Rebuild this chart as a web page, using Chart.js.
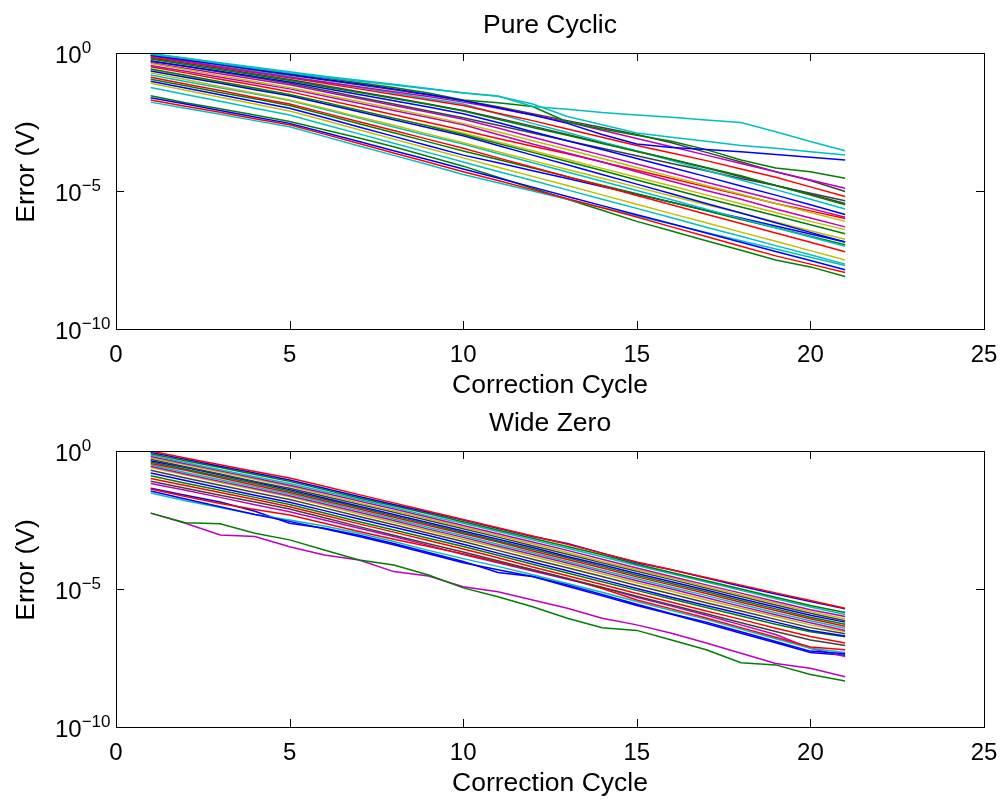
<!DOCTYPE html>
<html>
<head>
<meta charset="utf-8">
<title>Pure Cyclic / Wide Zero</title>
<script src="https://cdn.jsdelivr.net/npm/chart.js@4.4.0/dist/chart.umd.min.js"></script>
<style>
html, body { margin: 0; padding: 0; background: #fff; }
#wrap { position: relative; width: 1006px; height: 802px; }
canvas { position: absolute; left: 0; }
</style>
</head>
<body>
<div id="wrap">
  <canvas id="pureCyclic" width="1006" height="401" style="top:0"></canvas>
  <canvas id="wideZero" width="1006" height="401" style="top:401px"></canvas>
</div>
<script>
// correction cycles on the x axis
var cycles = [1, 2, 3, 4, 5, 6, 7, 8, 9, 10, 11, 12, 13, 14, 15, 16, 17, 18, 19, 20, 21];

var xTicks = [0, 5, 10, 15, 20, 25];
var yTicks = [1, 1e-5, 1e-10];
var yTickExps = ['0', '\u22125', '\u221210'];

var xLabel = 'Correction Cycle';
var yLabel = 'Error (V)';

var pureCyclicLog = [
  [-0.05,-0.2,-0.38,-0.55,-0.72,-0.88,-1.02,-1.16,-1.3,-1.44,-1.56,-1.94,-2.04,-2.16,-2.25,-2.33,-2.43,-2.52,-2.85,-3.21,-3.54],
  [-0.02,-0.18,-0.35,-0.52,-0.68,-0.84,-0.99,-1.13,-1.29,-1.45,-1.57,-1.85,-2.3,-2.6,-2.9,-3.05,-3.2,-3.35,-3.45,-3.58,-3.7],
  [-0.08,-0.25,-0.42,-0.6,-0.78,-0.95,-1.12,-1.3,-1.5,-1.72,-1.98,-2.25,-2.55,-2.95,-3.3,-3.42,-3.5,-3.58,-3.68,-3.78,-3.88],
  [-0.03,-0.2,-0.38,-0.56,-0.74,-0.9,-1.08,-1.25,-1.45,-1.7,-1.8,-1.94,-2.5,-2.75,-2.98,-3.2,-3.5,-3.88,-4.17,-4.3,-4.54],
  [-0.1,-0.3,-0.5,-0.7,-0.88,-1.05,-1.22,-1.4,-1.58,-1.78,-2.0,-2.25,-2.5,-2.8,-3.1,-3.4,-3.7,-4.0,-4.3,-4.6,-4.9],
  [-0.06,-0.24,-0.43,-0.62,-0.8,-0.98,-1.15,-1.33,-1.52,-1.72,-1.95,-2.2,-2.45,-2.7,-2.95,-3.25,-3.6,-3.95,-4.3,-4.62,-5.02],
  [-0.15,-0.33,-0.52,-0.71,-0.9,-1.1,-1.3,-1.5,-1.7,-1.9,-2.18,-2.45,-2.75,-3.05,-3.35,-3.62,-3.9,-4.2,-4.5,-4.85,-5.2],
  [-0.22,-0.42,-0.61,-0.8,-1.0,-1.22,-1.43,-1.65,-1.87,-2.1,-2.4,-2.7,-2.98,-3.28,-3.57,-3.85,-4.15,-4.45,-4.8,-5.15,-5.5],
  [-0.3,-0.48,-0.66,-0.85,-1.05,-1.28,-1.5,-1.73,-1.96,-2.2,-2.52,-2.85,-3.18,-3.5,-3.82,-4.15,-4.48,-4.82,-5.15,-5.5,-5.85],
  [-0.38,-0.6,-0.82,-1.03,-1.25,-1.5,-1.76,-2.02,-2.28,-2.55,-2.85,-3.18,-3.5,-3.82,-4.15,-4.48,-4.8,-5.12,-5.45,-5.78,-6.1],
  [-0.12,-0.3,-0.48,-0.66,-0.85,-1.05,-1.25,-1.45,-1.65,-1.85,-2.2,-2.55,-2.88,-3.22,-3.55,-3.9,-4.25,-4.6,-4.95,-5.3,-5.65],
  [-0.45,-0.66,-0.88,-1.09,-1.3,-1.56,-1.82,-2.08,-2.34,-2.6,-2.95,-3.3,-3.62,-3.95,-4.3,-4.65,-4.98,-5.3,-5.65,-5.98,-6.3],
  [-0.5,-0.72,-0.95,-1.17,-1.4,-1.68,-1.96,-2.24,-2.52,-2.8,-3.1,-3.38,-3.65,-3.95,-4.25,-4.55,-4.85,-5.15,-5.45,-5.72,-6.0],
  [-0.58,-0.81,-1.04,-1.27,-1.5,-1.78,-2.07,-2.36,-2.65,-2.95,-3.28,-3.6,-3.93,-4.26,-4.6,-4.93,-5.26,-5.58,-5.9,-6.22,-6.55],
  [-0.65,-0.88,-1.1,-1.33,-1.55,-1.84,-2.13,-2.42,-2.71,-3.0,-3.35,-3.7,-4.05,-4.4,-4.75,-5.1,-5.45,-5.8,-6.15,-6.5,-6.85],
  [-0.28,-0.48,-0.69,-0.89,-1.1,-1.35,-1.6,-1.85,-2.1,-2.35,-2.62,-2.9,-3.18,-3.45,-3.72,-4.0,-4.27,-4.55,-4.8,-5.08,-5.35],
  [-0.72,-0.96,-1.21,-1.45,-1.7,-2.0,-2.32,-2.62,-2.94,-3.25,-3.58,-3.9,-4.22,-4.54,-4.86,-5.18,-5.5,-5.8,-6.12,-6.44,-6.75],
  [-0.8,-1.03,-1.26,-1.49,-1.72,-2.04,-2.36,-2.68,-3.0,-3.3,-3.64,-3.98,-4.31,-4.65,-4.98,-5.32,-5.66,-6.0,-6.33,-6.67,-7.0],
  [-0.35,-0.55,-0.75,-0.95,-1.15,-1.4,-1.65,-1.9,-2.15,-2.4,-2.72,-3.05,-3.38,-3.7,-4.02,-4.35,-4.68,-5.0,-5.32,-5.63,-5.95],
  [-0.88,-1.12,-1.36,-1.61,-1.85,-2.17,-2.49,-2.81,-3.13,-3.45,-3.8,-4.14,-4.48,-4.82,-5.16,-5.5,-5.84,-6.18,-6.52,-6.86,-7.2],
  [-0.95,-1.19,-1.43,-1.66,-1.9,-2.23,-2.56,-2.89,-3.22,-3.55,-3.86,-4.17,-4.48,-4.79,-5.1,-5.41,-5.72,-6.03,-6.33,-6.64,-6.95],
  [-1.02,-1.27,-1.51,-1.76,-2.0,-2.34,-2.68,-3.02,-3.36,-3.7,-3.98,-4.27,-4.55,-4.84,-5.12,-5.41,-5.7,-5.98,-6.27,-6.56,-6.85],
  [-1.1,-1.35,-1.6,-1.85,-2.1,-2.44,-2.78,-3.12,-3.46,-3.8,-4.14,-4.47,-4.8,-5.14,-5.48,-5.82,-6.15,-6.49,-6.82,-7.16,-7.5],
  [-1.25,-1.5,-1.75,-2.0,-2.25,-2.59,-2.93,-3.27,-3.61,-3.95,-4.29,-4.62,-4.96,-5.3,-5.63,-5.97,-6.31,-6.64,-6.98,-7.31,-7.65],
  [-1.62,-1.85,-2.08,-2.32,-2.55,-2.88,-3.21,-3.54,-3.87,-4.2,-4.53,-4.86,-5.2,-5.53,-5.86,-6.19,-6.52,-6.86,-7.19,-7.52,-7.85],
  [-1.7,-1.93,-2.15,-2.38,-2.6,-2.94,-3.28,-3.62,-3.96,-4.3,-4.62,-4.95,-5.28,-5.61,-5.94,-6.3,-6.65,-7.0,-7.35,-7.65,-7.95],
  [-1.78,-2.0,-2.22,-2.45,-2.67,-3.02,-3.37,-3.71,-4.05,-4.4,-4.7,-5.0,-5.3,-5.6,-5.9,-6.2,-6.5,-6.8,-7.1,-7.4,-7.7],
  [-1.55,-1.8,-2.02,-2.25,-2.48,-2.78,-3.08,-3.4,-3.75,-4.1,-4.5,-4.9,-5.3,-5.7,-6.1,-6.45,-6.8,-7.15,-7.5,-7.75,-8.1],
  [-0.6,-0.83,-1.07,-1.3,-1.55,-1.82,-2.09,-2.36,-2.63,-2.9,-3.22,-3.54,-3.86,-4.18,-4.5,-4.82,-5.14,-5.46,-5.78,-6.1,-6.4],
  [-0.18,-0.37,-0.56,-0.76,-0.96,-1.18,-1.4,-1.62,-1.85,-2.08,-2.36,-2.65,-2.95,-3.25,-3.55,-3.86,-4.17,-4.48,-4.8,-5.12,-5.45]
];
var pureCyclicColors = ['c','c','b','g','m','k','r','g','b','y','c','m','r','g','b','k','y','c','m','r','g','b','y','c','b','r','c','g','y','k'];

var wideZeroLog = [
  [-2.25,-2.6,-2.64,-2.98,-3.22,-3.59,-3.95,-4.13,-4.49,-4.96,-5.28,-5.64,-6.06,-6.4,-6.5,-6.85,-7.2,-7.67,-7.75,-8.1,-8.33],
  [-2.25,-2.62,-3.04,-3.1,-3.47,-3.77,-3.95,-4.37,-4.53,-4.92,-5.1,-5.4,-5.7,-6.06,-6.3,-6.6,-6.96,-7.33,-7.7,-7.87,-8.18],
  [0,-0.25,-0.5,-0.74,-0.98,-1.28,-1.58,-1.88,-2.18,-2.48,-2.78,-3.08,-3.38,-3.7,-4.02,-4.3,-4.58,-4.86,-5.14,-5.42,-5.7],
  [-0.05,-0.3,-0.55,-0.8,-1.05,-1.35,-1.65,-1.94,-2.22,-2.5,-2.8,-3.1,-3.35,-3.7,-4.05,-4.3,-4.6,-4.9,-5.18,-5.45,-5.72],
  [-0.1,-0.35,-0.6,-0.85,-1.1,-1.4,-1.7,-1.98,-2.27,-2.56,-2.86,-3.16,-3.46,-3.76,-4.1,-4.4,-4.7,-5.0,-5.3,-5.6,-5.85],
  [-0.15,-0.42,-0.68,-0.93,-1.18,-1.47,-1.76,-2.05,-2.35,-2.62,-2.92,-3.22,-3.52,-3.83,-4.15,-4.45,-4.75,-5.05,-5.35,-5.65,-5.92],
  [-0.2,-0.46,-0.72,-0.98,-1.24,-1.52,-1.81,-2.1,-2.4,-2.7,-3.0,-3.3,-3.6,-3.92,-4.24,-4.55,-4.85,-5.15,-5.45,-5.75,-6.0],
  [-0.25,-0.5,-0.76,-1.02,-1.28,-1.58,-1.88,-2.17,-2.46,-2.76,-3.06,-3.36,-3.68,-4.0,-4.3,-4.6,-4.92,-5.22,-5.52,-5.82,-6.08],
  [-0.3,-0.57,-0.83,-1.1,-1.35,-1.64,-1.93,-2.22,-2.52,-2.82,-3.12,-3.43,-3.74,-4.05,-4.36,-4.66,-4.96,-5.27,-5.58,-5.88,-6.15],
  [-0.35,-0.6,-0.86,-1.12,-1.4,-1.7,-2.0,-2.3,-2.6,-2.9,-3.2,-3.5,-3.82,-4.12,-4.44,-4.74,-5.04,-5.35,-5.65,-5.95,-6.2],
  [-0.4,-0.66,-0.92,-1.18,-1.45,-1.75,-2.05,-2.35,-2.65,-2.95,-3.26,-3.56,-3.87,-4.18,-4.5,-4.8,-5.1,-5.42,-5.72,-6.02,-6.28],
  [-0.45,-0.7,-0.97,-1.24,-1.5,-1.8,-2.1,-2.4,-2.7,-3.0,-3.3,-3.62,-3.93,-4.24,-4.56,-4.86,-5.16,-5.48,-5.78,-6.08,-6.35],
  [-0.5,-0.78,-1.04,-1.3,-1.56,-1.86,-2.16,-2.46,-2.77,-3.07,-3.38,-3.69,-4.0,-4.32,-4.63,-4.94,-5.24,-5.55,-5.86,-6.15,-6.42],
  [-0.55,-0.83,-1.1,-1.36,-1.62,-1.92,-2.22,-2.52,-2.83,-3.13,-3.44,-3.75,-4.06,-4.38,-4.7,-5.0,-5.32,-5.63,-5.93,-6.22,-6.5],
  [-0.6,-0.87,-1.14,-1.4,-1.66,-1.97,-2.28,-2.58,-2.89,-3.2,-3.5,-3.82,-4.13,-4.45,-4.77,-5.08,-5.4,-5.7,-6.0,-6.3,-6.55],
  [-0.7,-0.98,-1.24,-1.5,-1.76,-2.06,-2.37,-2.67,-2.98,-3.28,-3.6,-3.92,-4.23,-4.55,-4.87,-5.18,-5.5,-5.8,-6.1,-6.4,-6.62],
  [-0.8,-1.07,-1.34,-1.6,-1.86,-2.16,-2.46,-2.76,-3.06,-3.38,-3.7,-4.02,-4.34,-4.66,-4.98,-5.3,-5.6,-5.9,-6.2,-6.5,-6.7],
  [-0.9,-1.17,-1.42,-1.68,-1.94,-2.25,-2.56,-2.86,-3.16,-3.46,-3.78,-4.1,-4.42,-4.74,-5.05,-5.36,-5.67,-5.98,-6.28,-6.55,-6.73],
  [-1.0,-1.25,-1.5,-1.76,-2.02,-2.33,-2.64,-2.94,-3.24,-3.55,-3.87,-4.2,-4.52,-4.84,-5.16,-5.48,-5.8,-6.1,-6.42,-6.72,-6.96],
  [-1.1,-1.35,-1.6,-1.85,-2.1,-2.42,-2.74,-3.05,-3.36,-3.66,-3.98,-4.3,-4.62,-4.94,-5.26,-5.58,-5.9,-6.22,-6.54,-6.85,-7.05],
  [-1.38,-1.65,-1.9,-2.12,-2.32,-2.62,-2.92,-3.2,-3.46,-3.72,-4.02,-4.3,-4.62,-4.98,-5.4,-5.72,-6.05,-6.4,-6.75,-7.1,-7.2],
  [-1.45,-1.74,-2.02,-2.3,-2.55,-2.82,-3.1,-3.4,-3.72,-4.05,-4.3,-4.55,-4.85,-5.2,-5.55,-5.9,-6.2,-6.55,-6.9,-7.25,-7.35],
  [-1.52,-1.8,-2.05,-2.3,-2.5,-2.72,-2.98,-3.28,-3.6,-3.9,-4.18,-4.48,-4.8,-5.12,-5.45,-5.78,-6.1,-6.45,-6.8,-7.15,-7.3],
  [-1.18,-1.42,-1.68,-1.95,-2.2,-2.5,-2.8,-3.1,-3.42,-3.75,-4.05,-4.35,-4.65,-4.95,-5.3,-5.62,-5.95,-6.3,-6.65,-7.15,-7.45],
  [-1.35,-1.6,-1.85,-2.18,-2.62,-2.8,-3.05,-3.35,-3.68,-4.0,-4.4,-4.55,-4.9,-5.25,-5.6,-5.92,-6.25,-6.6,-6.95,-7.3,-7.4]
];
var wideZeroColors = ['g','m','r','b','g','c','m','y','k','b','g','r','c','m','y','k','b','g','r','k','r','b','c','m','b'];

// MATLAB default line colours
var matlabColors = {
  b: 'rgb(0,0,255)', g: 'rgb(0,128,0)', r: 'rgb(255,0,0)', c: 'rgb(0,191,191)',
  m: 'rgb(191,0,191)', y: 'rgb(191,191,0)', k: 'rgb(64,64,64)'
};

var FONT = '"Liberation Sans", Arial, Helvetica, sans-serif';

// box, inward ticks and all the texts drawn like a matlab axes
var matlabAxes = {
  id: 'matlabAxes',
  afterDraw: function(chart, args, opts) {
    var ctx = chart.ctx;
    var a = chart.chartArea;
    var xs = chart.scales.x, ys = chart.scales.y;
    var left = Math.round(a.left), top = Math.round(a.top);
    var right = Math.round(a.right), bottom = Math.round(a.bottom);
    ctx.save();
    ctx.strokeStyle = '#000';
    ctx.lineWidth = 1;
    ctx.strokeRect(left + 0.5, top + 0.5, right - left, bottom - top);
    ctx.beginPath();
    xTicks.forEach(function(v) {
      var px = Math.round(xs.getPixelForValue(v)) + 0.5;
      ctx.moveTo(px, bottom); ctx.lineTo(px, bottom - 8);
      ctx.moveTo(px, top); ctx.lineTo(px, top + 8);
    });
    yTicks.forEach(function(v) {
      var py = Math.round(ys.getPixelForValue(v)) + 0.5;
      ctx.moveTo(left, py); ctx.lineTo(left + 8, py);
      ctx.moveTo(right, py); ctx.lineTo(right - 8, py);
    });
    ctx.stroke();

    ctx.fillStyle = '#000';
    ctx.textBaseline = 'alphabetic';
    ctx.font = '24px ' + FONT;
    ctx.textAlign = 'center';
    xTicks.forEach(function(v) {
      ctx.fillText(String(v), xs.getPixelForValue(v), bottom + 33);
    });
    ctx.textAlign = 'left';
    yTicks.forEach(function(v, i) {
      var py = ys.getPixelForValue(v);
      ctx.font = '24px ' + FONT;
      ctx.fillText('10', 55, py + 10);
      var w = ctx.measureText('10').width;
      ctx.font = '17px ' + FONT;
      ctx.fillText(yTickExps[i], 55 + w, py);
    });

    ctx.font = '26.5px ' + FONT;
    ctx.textAlign = 'center';
    var cx = (left + right) / 2;
    ctx.fillText(opts.title, cx, top - 20);
    ctx.fillText(xLabel, cx, bottom + 64);
    ctx.translate(34, (top + bottom) / 2 - 19);
    ctx.rotate(-Math.PI / 2);
    ctx.fillText(yLabel, 0, 0);
    ctx.restore();
  }
};

function buildDatasets(lines, colors) {
  return lines.map(function(vals, i) {
    return {
      data: vals.map(function(e, j) { return { x: cycles[j], y: Math.pow(10, e) }; }),
      borderColor: matlabColors[colors[i]],
      backgroundColor: matlabColors[colors[i]],
      borderWidth: 1.5,
      pointRadius: 0,
      tension: 0,
      fill: false
    };
  });
}

function makeChart(id, title, lines, colors, pad) {
  var ctx = document.getElementById(id).getContext('2d');
  return new Chart(ctx, {
    type: 'line',
    data: { datasets: buildDatasets(lines, colors) },
    options: {
      responsive: false,
      animation: false,
      devicePixelRatio: 1,
      events: [],
      layout: { padding: pad },
      plugins: {
        legend: { display: false },
        tooltip: { enabled: false },
        matlabAxes: { title: title }
      },
      scales: {
        x: { type: 'linear', min: 0, max: 25, display: false },
        y: { type: 'logarithmic', min: 1e-10, max: 1, display: false }
      }
    },
    plugins: [matlabAxes]
  });
}

window.onload = function() {
  makeChart('pureCyclic', 'Pure Cyclic', pureCyclicLog, pureCyclicColors,
    { left: 116, top: 53, right: 22, bottom: 72 });
  makeChart('wideZero', 'Wide Zero', wideZeroLog, wideZeroColors,
    { left: 116, top: 50, right: 22, bottom: 75 });
};
</script>
</body>
</html>
